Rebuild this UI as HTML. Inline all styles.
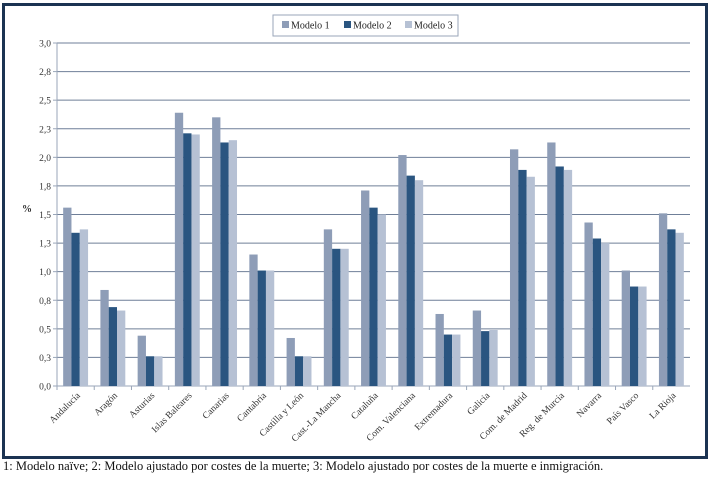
<!DOCTYPE html>
<html><head><meta charset="utf-8"><style>
html,body{margin:0;padding:0;background:#fff;}
body{width:709px;height:479px;position:relative;overflow:hidden;font-family:"Liberation Serif",serif;}
#frame{position:absolute;left:2px;top:3px;width:700px;height:450px;border:3px solid #1b3352;}
#caption{position:absolute;left:3px;top:459px;font-size:12.5px;color:#111;white-space:nowrap;}
</style></head><body>
<div id="frame"></div>
<svg id="chart" width="709" height="479" style="position:absolute;left:0;top:0"></svg>
<div id="caption">1: Modelo naïve; 2: Modelo ajustado por costes de la muerte; 3: Modelo ajustado por costes de la muerte e inmigración.</div>
<script>
const categories=["Andalucía","Aragón","Asturias","Islas Baleares","Canarias","Cantabria","Castilla y León","Cast.-La Mancha","Cataluña","Com. Valenciana","Extremadura","Galicia","Com. de Madrid","Reg. de Murcia","Navarra","País Vasco","La Rioja"];
const modelo1=[1.56,0.84,0.44,2.39,2.35,1.15,0.42,1.37,1.71,2.02,0.63,0.66,2.07,2.13,1.43,1.01,1.51];
const modelo2=[1.34,0.69,0.26,2.21,2.13,1.01,0.26,1.20,1.56,1.84,0.45,0.48,1.89,1.92,1.29,0.87,1.37];
const modelo3=[1.37,0.66,0.26,2.20,2.15,1.01,0.26,1.20,1.50,1.80,0.45,0.49,1.83,1.89,1.25,0.87,1.34];
const tickValues=[0,0.25,0.5,0.75,1,1.25,1.5,1.75,2,2.25,2.5,2.75,3];
const tickLabels=["0,0","0,3","0,5","0,8","1,0","1,3","1,5","1,8","2,0","2,3","2,5","2,8","3,0"];
const seriesNames=["Modelo 1","Modelo 2","Modelo 3"];
const colors=["#8e9db7","#2a5580","#b6c1d4"];

const NS="http://www.w3.org/2000/svg";
const svg=document.getElementById('chart');
const X0=57,X1=690,Y0=386,Y1=43,YMAX=3;
function yScale(v){return Y0-(v/YMAX)*(Y0-Y1);}
const band=(X1-X0)/categories.length;
function xBand(i){return X0+i*band;}
function mk(tag,attrs){const e=document.createElementNS(NS,tag);for(const k in attrs)e.setAttribute(k,attrs[k]);svg.appendChild(e);return e;}

tickValues.forEach((t,i)=>{
  const y=yScale(t);
  const g=mk('line',{x1:X0,x2:X1,y1:y,y2:y,stroke:i===0?'#9aa6b8':'#6f7f98','stroke-width':1});
  
  
  mk('line',{x1:X0-4,x2:X0,y1:y,y2:y,stroke:'#9aa6b8'});
  const tx=mk('text',{x:X0-6,y:y+3.5,'text-anchor':'end','font-size':9.5,fill:'#333','font-family':'Liberation Serif, serif'});
  tx.textContent=tickLabels[i];
  
  
});
mk('line',{x1:X0,x2:X0,y1:Y1,y2:Y0,stroke:'#9aa6b8'});
const yt=mk('text',{x:22,y:212,'font-size':10,fill:'#333','font-weight':'bold','font-family':'Liberation Serif, serif'});
yt.textContent='%';



const series=[modelo1,modelo2,modelo3];
const bw=8.3;
categories.forEach((c,i)=>{
  const cx=xBand(i)+band/2;
  series.forEach((s,k)=>{
    const x=cx-1.5*bw+k*bw;
    const y=yScale(s[i]);
    const r=mk('rect',{x:x,y:y,width:bw,height:Y0-y,fill:colors[k]});
    
    
  });
  mk('line',{x1:xBand(i),x2:xBand(i),y1:Y0,y2:Y0+4,stroke:'#9aa6b8'});
  const lx=cx+5,ly=Y0+10;
  const t=mk('text',{x:lx,y:ly,'text-anchor':'end','font-size':9.5,fill:'#333','font-family':'Liberation Serif, serif',transform:'rotate(-45 '+lx+' '+ly+')'});
  t.textContent=c;
  
  
});

const lg=mk('rect',{x:273,y:15,width:185,height:21,fill:'#fff',stroke:'#9aa6b8'});


const lxs=[282,344,405];
seriesNames.forEach((n,k)=>{
  const sw=mk('rect',{x:lxs[k],y:21,width:7,height:7,fill:colors[k]});
  
  
  const t=mk('text',{x:lxs[k]+9,y:28.5,'font-size':10,fill:'#222','font-family':'Liberation Serif, serif'});
  t.textContent=n;
  
  
});
</script>
</body></html>
